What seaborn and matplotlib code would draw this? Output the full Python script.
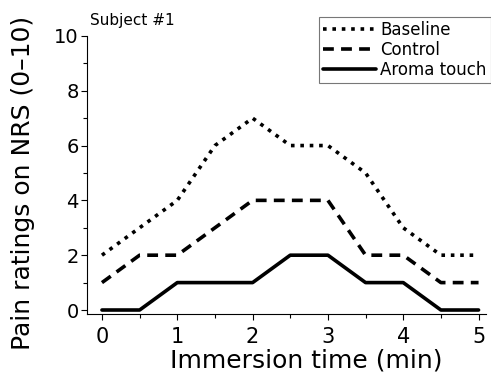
import matplotlib
matplotlib.use("Agg")
import matplotlib.pyplot as plt
import seaborn as sns
import pandas as pd
from matplotlib.ticker import MultipleLocator

time_min = [0, 0.5, 1, 1.5, 2, 2.5, 3, 3.5, 4, 4.5, 5]
baseline = [2, 3, 4, 6, 7, 6, 6, 5, 3, 2, 2]
control = [1, 2, 2, 3, 4, 4, 4, 2, 2, 1, 1]
aroma = [0, 0, 1, 1, 1, 2, 2, 1, 1, 0, 0]
series_names = ["Baseline", "Control", "Aroma touch"]

df = pd.DataFrame({
    "time": time_min * 3,
    "nrs": baseline + control + aroma,
    "cond": sum([[n] * len(time_min) for n in series_names], []),
})

sns.set_style("ticks")
plt.rcParams['font.family'] = ['DejaVu Sans']
plt.rcParams.update({"text.color": "black", "axes.labelcolor": "black",
                     "xtick.color": "black", "ytick.color": "black",
                     "axes.edgecolor": "black"})

fig = plt.figure(figsize=(4.91, 3.78), dpi=100)
ax = fig.add_axes([0.177, 0.169, 0.813, 0.736])

styles = {"Baseline": (0, (1, 1.6)), "Control": (0, (3, 2)), "Aroma touch": "-"}
for name in series_names:
    sub = df[df["cond"] == name]
    sns.lineplot(data=sub, x="time", y="nrs", ax=ax, color="black",
                 linestyle=styles[name], linewidth=2.6, label=name)

ax.set_xlim(-0.2, 5.1)
ax.set_ylim(-0.15, 10)
ax.xaxis.set_major_locator(MultipleLocator(1))
ax.xaxis.set_minor_locator(MultipleLocator(0.5))
ax.yaxis.set_major_locator(MultipleLocator(2))
ax.yaxis.set_minor_locator(MultipleLocator(1))
ax.tick_params(axis="both", which="major", length=4, width=0.8, direction="out")
ax.tick_params(axis="y", which="major", labelsize=14, pad=2)
ax.tick_params(axis="x", which="major", labelsize=15, pad=5)
ax.tick_params(axis="both", which="minor", length=3, width=0.8, direction="out")
sns.despine(ax=ax)
ax.spines["left"].set_linewidth(0.8)
ax.spines["bottom"].set_linewidth(0.8)

ax.set_xlabel("Immersion time (min)", fontsize=18, labelpad=0)
ax.xaxis.set_label_coords(0.549, -0.125)
ax.xaxis.label.set_va("top")
ax.set_ylabel("Pain ratings on NRS (0\u201310)", fontsize=18, labelpad=6)
ax.yaxis.set_label_coords(-0.13, 0.47)
fig.text(0.183, 0.945, "Subject #1", fontsize=11, ha="left", va="center")

leg = ax.legend(loc="upper right", bbox_to_anchor=(1.0, 0.955), bbox_transform=fig.transFigure,
                frameon=True, fancybox=False, fontsize=12, handlelength=3.2,
                handletextpad=0.25, borderpad=0.25, labelspacing=0.1, borderaxespad=0)
leg.get_frame().set_edgecolor("#555555")
leg.get_frame().set_linewidth(0.8)

fig.savefig("out.png", dpi=100)
